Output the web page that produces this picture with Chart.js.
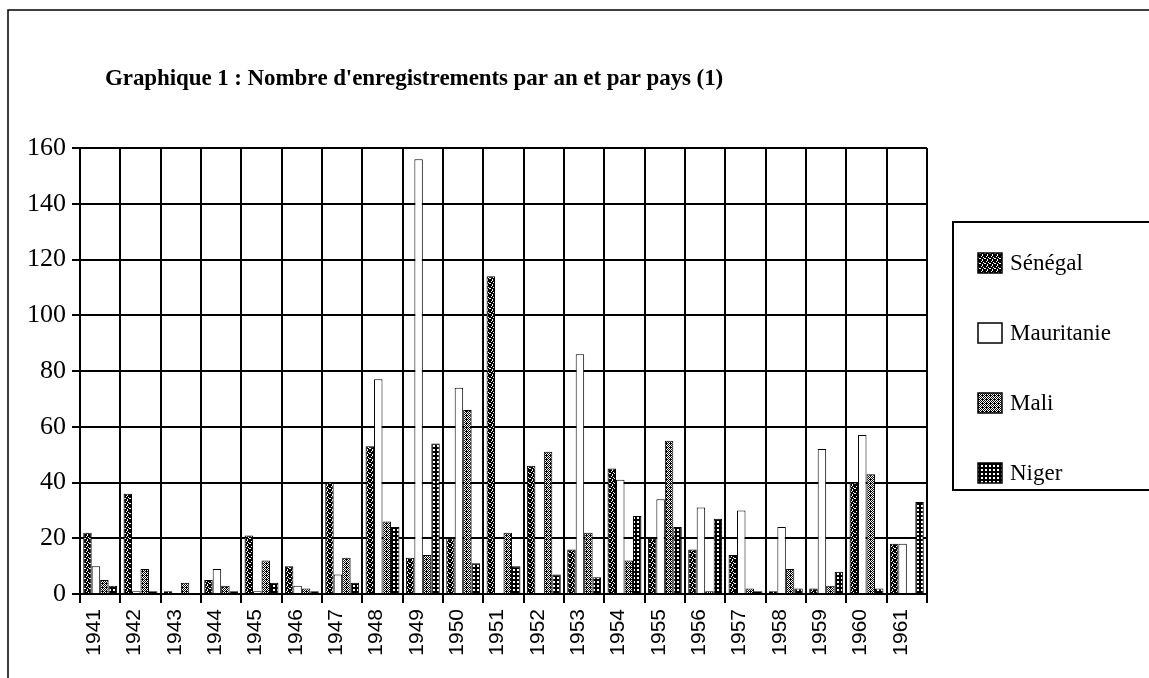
<!DOCTYPE html>
<html>
<head>
<meta charset="utf-8">
<script src="https://cdn.jsdelivr.net/npm/chart.js@4.4.1/dist/chart.umd.min.js"></script>
<style>
  html, body { margin: 0; padding: 0; background: #fff; }
  #wrap { width: 1149px; height: 678px; position: relative; }
</style>
</head>
<body>
<div id="wrap"><canvas id="chart" width="1149" height="678"></canvas></div>
<script>
// Data
const years = ['1941', '1942', '1943', '1944', '1945', '1946', '1947', '1948', '1949', '1950', '1951',
               '1952', '1953', '1954', '1955', '1956', '1957', '1958', '1959', '1960', '1961'];
const senegal    = [22, 36, 1, 5, 21, 10, 40, 53, 13, 20, 114, 46, 16, 45, 20, 16, 14, 1, 2, 40, 18];
const mauritanie = [10, 1, 0, 9, 1, 3, 7, 77, 156, 74, 0, 0, 86, 41, 34, 31, 30, 24, 52, 57, 18];
const mali       = [5, 9, 4, 3, 12, 2, 13, 26, 14, 66, 22, 51, 22, 12, 55, 1, 2, 9, 3, 43, 0];
const niger      = [3, 1, 0, 1, 4, 1, 4, 24, 54, 11, 10, 7, 6, 28, 24, 27, 1, 2, 8, 2, 33];
const yTicks = [0, 20, 40, 60, 80, 100, 120, 140, 160];

const titleText = "Graphique 1 : Nombre d'enregistrements par an et par pays (1)";

// Small black/white fill patterns, like the stippled fills of the original
function makePattern(rows) {
    const c = document.createElement('canvas');
    c.width = rows[0].length;
    c.height = rows.length;
    const g = c.getContext('2d');
    g.fillStyle = '#fff';
    g.fillRect(0, 0, c.width, c.height);
    g.fillStyle = '#000';
    rows.forEach((row, y) => {
        for (let x = 0; x < row.length; x++) {
            if (row[x] === '1') g.fillRect(x, y, 1, 1);
        }
    });
    return g.createPattern(c, 'repeat');
}

const ctx = document.getElementById('chart').getContext('2d');
const fillSenegal = makePattern(['11011', '10111', '11101', '01110', '11011']);
const fillMali = makePattern(['1010', '0101', '1010', '0111']);
const fillNiger = makePattern(['1111', '1001', '1001', '1111']);

const serif = '"Liberation Serif", "DejaVu Serif", serif';

// Outer frame + title
const framePlugin = {
    id: 'frame',
    beforeDraw(chart) {
        const c = chart.ctx;
        c.save();
        c.fillStyle = '#fff';
        c.fillRect(0, 0, chart.width, chart.height);
        c.strokeStyle = '#000';
        c.lineWidth = 1.5;
        c.beginPath();
        c.moveTo(8, 678);
        c.lineTo(8, 10);
        c.lineTo(1149, 10);
        c.stroke();

        // title, stretched to the width it has in the scan
        const size = 23;
        c.font = 'bold ' + size + 'px ' + serif;
        const natural = c.measureText(titleText).width;
        const spacing = (617 - natural) / (titleText.length - 1);
        c.fillStyle = '#000';
        c.textBaseline = 'alphabetic';
        let x = 105;
        for (const ch of titleText) {
            c.fillText(ch, x, 85);
            x += c.measureText(ch).width + spacing;
        }
        c.restore();
    }
};

// Boxed legend on the right, built from the datasets
const boxLegendPlugin = {
    id: 'boxLegend',
    afterDraw(chart) {
        const c = chart.ctx;
        c.save();
        c.strokeStyle = '#000';
        c.lineWidth = 2;
        c.strokeRect(953, 222, 200, 268);
        c.font = '23px ' + serif;
        c.textBaseline = 'middle';
        chart.data.datasets.forEach((ds, i) => {
            const y = 263 + i * 70;
            c.fillStyle = ds.backgroundColor;
            c.fillRect(978, y - 10, 24, 20);
            c.lineWidth = 1.5;
            c.strokeRect(978, y - 10, 24, 20);
            c.fillStyle = '#000';
            c.fillText(ds.label, 1010, y + 1);
        });
        c.restore();
    }
};

function barSet(label, data, fill) {
    return {
        label: label,
        data: data,
        backgroundColor: fill,
        borderColor: '#000',
        borderWidth: 1,
        borderSkipped: 'bottom',
        categoryPercentage: 0.84,
        barPercentage: 1.0
    };
}

new Chart(ctx, {
    type: 'bar',
    data: {
        labels: years,
        datasets: [
            barSet('Sénégal', senegal, fillSenegal),
            barSet('Mauritanie', mauritanie, '#ffffff'),
            barSet('Mali', mali, fillMali),
            barSet('Niger', niger, fillNiger)
        ]
    },
    options: {
        responsive: false,
        animation: false,
        layout: { padding: { top: 148, right: 222, left: 10, bottom: 6 } },
        plugins: {
            legend: { display: false },
            title: { display: false },
            tooltip: { enabled: false }
        },
        scales: {
            x: {
                afterFit(scale) { scale.height = 78; },
                grid: { color: '#000', lineWidth: 2, tickLength: 9, offset: true },
                border: { color: '#000', width: 2 },
                ticks: {
                    color: '#000',
                    font: { family: '"Liberation Sans", Arial, sans-serif', size: 21 },
                    minRotation: 90,
                    maxRotation: 90,
                    autoSkip: false,
                    labelOffset: -6,
                    padding: 6
                }
            },
            y: {
                min: 0,
                max: 160,
                afterFit(scale) { scale.width = 70; },
                afterBuildTicks(scale) { scale.ticks = yTicks.map(v => ({ value: v })); },
                grid: { color: '#000', lineWidth: 2, tickLength: 8 },
                border: { color: '#000', width: 2 },
                ticks: {
                    color: '#000',
                    font: { family: serif, size: 26 },
                    padding: 6
                }
            }
        }
    },
    plugins: [framePlugin, boxLegendPlugin]
});
</script>
</body>
</html>
